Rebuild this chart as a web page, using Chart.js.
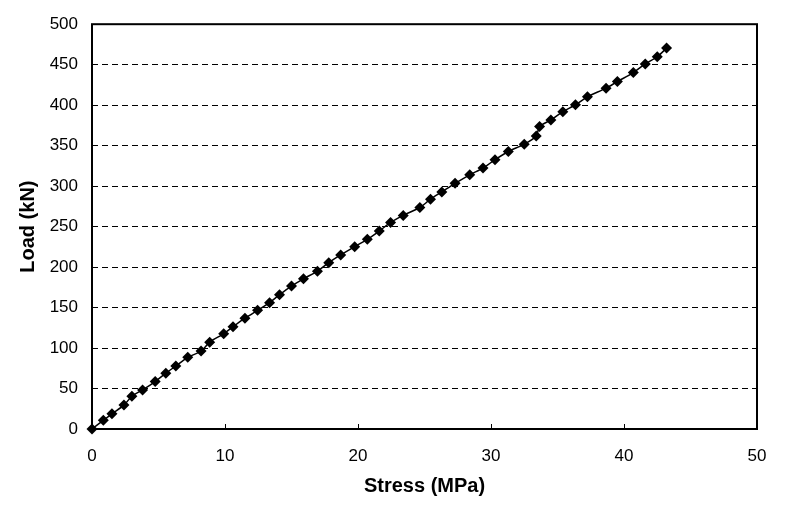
<!DOCTYPE html>
<html>
<head>
<meta charset="utf-8">
<script src="https://cdn.jsdelivr.net/npm/chart.js@4.4.0/dist/chart.umd.min.js"></script>
<style>
  html, body { margin: 0; padding: 0; background: #fff; }
  #wrap { width: 791px; height: 529px; }
</style>
</head>
<body>
<div id="wrap"><canvas id="myChart" width="791" height="529"></canvas></div>
<script>
// values
var stress = [0, 0.85, 1.5, 2.4, 3.0, 3.8, 4.75, 5.55, 6.3, 7.2, 8.2, 8.85, 9.9, 10.6, 11.5,
    12.45, 13.35, 14.1, 15.0, 15.9, 16.95, 17.8, 18.7, 19.75, 20.7, 21.6, 22.45, 23.4, 24.65,
    25.45, 26.3, 27.3, 28.4, 29.4, 30.3, 31.3, 32.5, 33.4, 33.65, 34.5, 35.4, 36.35, 37.25,
    38.65, 39.5, 40.7, 41.6, 42.5, 43.2];
var load = [0, 10.7, 18.8, 29.5, 40.5, 48.3, 58.6, 68.8, 77.8, 88.5, 96.2, 107.3, 117.6, 126.2,
    136.8, 146.6, 156, 165.8, 176.5, 185.5, 195, 205.5, 215, 225.2, 234.3, 244.5, 255.1, 263.8,
    273.6, 283.8, 292.8, 303.4, 314, 322.3, 332.6, 342.8, 351.8, 362, 373.5, 381.7, 391.9, 400.5,
    410.3, 421, 429.1, 440.2, 450.9, 459.8, 470.5];
var xTicks = [0, 10, 20, 30, 40, 50];
var yTicks = [0, 50, 100, 150, 200, 250, 300, 350, 400, 450, 500];

var points = stress.map(function (s, i) { return { x: s, y: load[i] }; });

// box around the plot area + small inward ticks on the x axis
var frame = {
    id: 'frame',
    beforeDatasetsDraw: function (chart) {
        var a = chart.chartArea, c = chart.ctx, xs = chart.scales.x;
        c.save();
        c.strokeStyle = '#000';
        c.lineWidth = 1;
        xTicks.forEach(function (t) {
            var px = Math.round(xs.getPixelForValue(t)) + 0.5;
            c.beginPath();
            c.moveTo(px, a.bottom);
            c.lineTo(px, a.bottom - 5);
            c.stroke();
        });
        c.lineWidth = 2;
        c.strokeRect(a.left, a.top, a.right - a.left, a.bottom - a.top);
        c.restore();
    }
};

var ctx = document.getElementById("myChart");
var myChart = new Chart(ctx, {
    type: 'scatter',
    data: {
        datasets: [
            {
                data: points,
                showLine: true,
                tension: 0.3,
                borderColor: '#000',
                borderWidth: 1.5,
                pointStyle: 'rectRot',
                pointRadius: 5.5,
                pointBackgroundColor: '#000',
                pointBorderColor: '#000',
                pointBorderWidth: 0,
                clip: false
            }
        ]
    },
    options: {
        responsive: false,
        animation: false,
        events: [],
        layout: { padding: { left: 0, top: 23, right: 34, bottom: 0 } },
        plugins: { legend: { display: false }, tooltip: { enabled: false } },
        scales: {
            x: {
                type: 'linear',
                min: 0, max: 50,
                afterBuildTicks: function (s) { s.ticks = xTicks.map(function (v) { return { value: v }; }); },
                afterFit: function (s) { s.height = 100; },
                grid: { display: false, drawTicks: false },
                border: { display: false },
                ticks: { color: '#000', padding: 17, maxRotation: 0,
                    font: { family: 'Arial, "Liberation Sans", sans-serif', size: 17 } },
                title: { display: true, text: 'Stress (MPa)', color: '#000',
                    padding: { top: 0, bottom: 31 },
                    font: { family: 'Arial, "Liberation Sans", sans-serif', size: 20, weight: 'bold' } }
            },
            y: {
                type: 'linear',
                min: 0, max: 500,
                afterBuildTicks: function (s) { s.ticks = yTicks.map(function (v) { return { value: v }; }); },
                afterFit: function (s) { s.width = 92; },
                grid: { color: '#000', lineWidth: 1, drawTicks: false },
                border: { display: false, dash: [6, 4] },
                ticks: { color: '#000', padding: 14,
                    font: { family: 'Arial, "Liberation Sans", sans-serif', size: 17 } },
                title: { display: true, text: 'Load (kN)', color: '#000',
                    padding: { top: 16, bottom: 0 },
                    font: { family: 'Arial, "Liberation Sans", sans-serif', size: 20, weight: 'bold' } }
            }
        }
    },
    plugins: [frame]
});
</script>
</body>
</html>
